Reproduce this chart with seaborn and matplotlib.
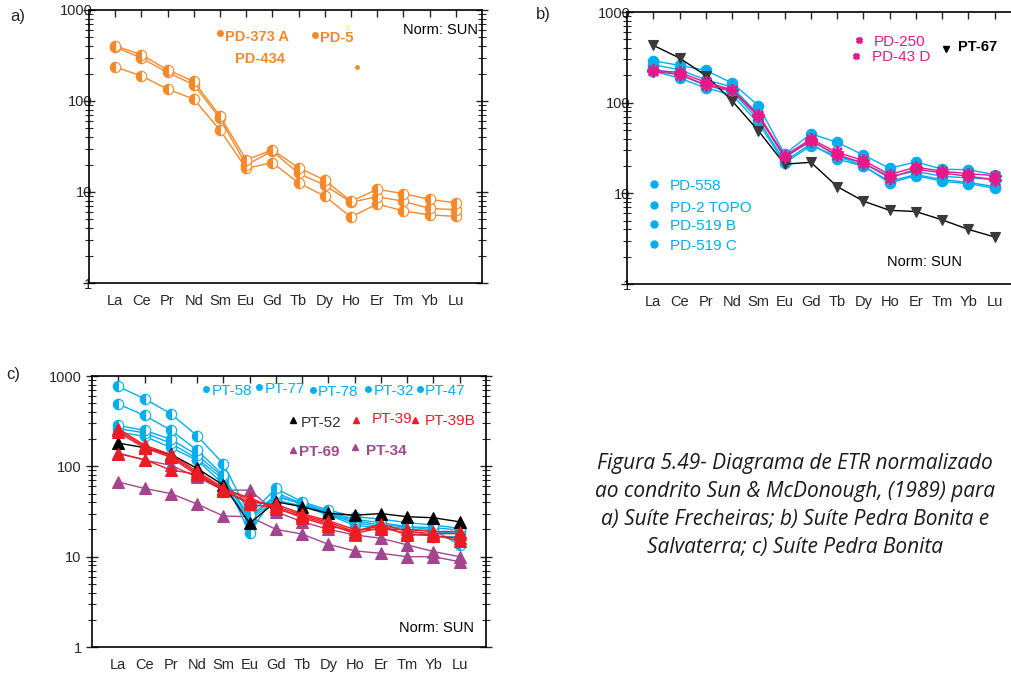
import numpy as np
import matplotlib
matplotlib.use('Agg')
import matplotlib.pyplot as plt
import seaborn as sns
from matplotlib.ticker import LogLocator, NullFormatter

ree = ['La', 'Ce', 'Pr', 'Nd', 'Sm', 'Eu', 'Gd', 'Tb', 'Dy', 'Ho', 'Er', 'Tm', 'Yb', 'Lu']

# a) Suite Frecheiras
pd_373a = [405, 322, 220, 164, 68.6, 22.5, 29.0, 18.5, 13.5, 7.9, 10.7, 9.6, 8.3, 7.6]
pd_434 = [392, 296, 206, 151, 64.6, 19.8, 28.2, 16.0, 11.9, 7.7, 8.9, 7.9, 6.6, 6.4]
pd_5 = [236, 189, 135, 105, 48.0, 18.2, 21.0, 12.6, 9.0, 5.3, 7.4, 6.2, 5.6, 5.4]

# b) Suite Pedra Bonita e Salvaterra
pd_558 = [290, 258, 227, 165, 93, 27.0, 45.5, 36.5, 26.5, 18.9, 22.2, 18.5, 18.2, 16.1]
pd_2_topo = [262, 231, 179, 149, 74, 24.5, 39.0, 25.6, 21.6, 15.4, 17.5, 15.4, 14.8, 14.2]
pd_519b = [235, 204, 154, 133, 65, 22.5, 35.3, 23.9, 19.9, 13.6, 16.1, 14.2, 13.2, 11.9]
pd_519c = [222, 187, 145, 122, 59.7, 21.6, 33.6, 25.6, 20.2, 13.0, 15.7, 13.6, 12.8, 11.4]
pd_250 = [227, 216, 168, 139, 74, 26.0, 39.7, 28.3, 23.1, 16.1, 19.5, 17.5, 16.5, 15.7]
pd_43d = [222, 204, 158, 137, 70.7, 25.2, 37.5, 26.7, 21.6, 14.8, 18.5, 16.8, 15.4, 14.2]
pt_67 = [429, 311, 199, 105, 49, 21.0, 22.0, 11.9, 8.2, 6.5, 6.3, 5.1, 4.0, 3.3]

# c) Suite Pedra Bonita
pt_58 = [766, 560, 383, 218, 107, 28.9, 57, 40.6, 32.8, 27.7, 26.1, 23.8, 22.4, 20.6]
pt_77 = [490, 366, 252, 151, 80, 18.1, 51, 38.9, 31.5, 25.9, 23.8, 21.5, 19.8, 13.5]
pt_78 = [284, 250, 200, 133, 76.6, 27.7, 48, 37.9, 30.2, 25.0, 22.4, 21.5, 20.9, 19.8]
pt_32 = [262, 235, 180, 122, 71.6, 26.6, 46, 38.9, 29.7, 23.8, 21.5, 20.6, 18.9, 18.1]
pt_47 = [240, 215, 162, 117, 63.6, 25.5, 42.4, 36.4, 28.9, 22.4, 20.6, 19.8, 16.7, 16.7]
pt_52 = [181, 161, 136, 95, 62, 23.4, 40.6, 35.7, 30.2, 28.8, 30.0, 27.7, 27.0, 24.3]
pt_39 = [261, 172, 135, 88, 58, 42, 36, 29, 24, 19, 23, 19, 18, 18]
pt_39b = [250, 166, 130, 84, 56, 45, 34, 28, 23, 18, 21, 18, 17, 16]
pt_39c = [238, 160, 126, 80, 54, 40, 38, 30, 25, 20, 20, 20, 19, 19]
pt_39d = [138, 119, 91, 82, 55, 38, 35, 27, 22, 19, 22, 17.4, 17.4, 15]
pt_69 = [141, 117, 103, 76, 54.6, 54.5, 31.4, 24.4, 20.1, 17.4, 16.0, 13.5, 11.4, 10.0]
pt_34 = [67, 57, 50, 38.3, 28.2, 27.7, 20.1, 17.8, 13.7, 11.6, 10.9, 10.0, 10.0, 8.8]

orange = '#F5892A'
cyan = '#00AEEF'
magenta = '#E8178A'
red = '#ED1C24'
purple = '#A3468F'

pos = np.arange(len(ree))

sns.set_style('ticks')
plt.rcParams['font.family'] = ['Liberation Sans', 'DejaVu Sans']

fig = plt.figure(figsize=(10.12, 6.79), dpi=100)
ax_a = fig.add_axes([0.0879, 0.5832, 0.3883, 0.4021])
ax_b = fig.add_axes([0.6196, 0.5817, 0.3893, 0.4006])
ax_c = fig.add_axes([0.0909, 0.0471, 0.3893, 0.3991])


def setup_axes(ax, ypad):
    ax.set_yscale('log')
    ax.set_ylim(1, 1000)
    ax.set_xlim(-1, len(ree))
    ax.set_xticks(pos)
    ax.set_xticklabels(ree)
    ax.set_yticks([1, 10, 100, 1000])
    ax.set_yticklabels(['1', '10', '100', '1000'])
    ax.yaxis.set_minor_locator(LogLocator(base=10, subs=np.arange(2, 10)))
    ax.yaxis.set_minor_formatter(NullFormatter())
    ax.tick_params(axis='x', bottom=False, top=True, direction='in',
                   length=5, width=1, labelsize=10.5, pad=8)
    ax.tick_params(axis='y', which='major', left=True, right=True,
                   direction='inout', length=9, width=1, labelsize=10.5, pad=ypad)
    ax.tick_params(axis='y', which='minor', left=True, right=True,
                   direction='inout', length=6, width=0.8)
    for s in ax.spines.values():
        s.set_linewidth(1.2)
        s.set_color('black')
    ax.set_xlabel('')
    ax.set_ylabel('')


def draw(ax, vals, color, marker, ms, fill='full', alt='white', edge=None, lw=1.0, mew=0.8, lcolor=None):
    sns.lineplot(x=pos, y=vals, ax=ax, color=lcolor or color, marker=marker,
                 markersize=ms, fillstyle=fill, markerfacecolor=color,
                 markerfacecoloralt=alt, markeredgecolor=edge or color,
                 markeredgewidth=mew, linewidth=lw, sort=False)


def key(ax, x, y, marker, color, ms=4):
    ax.plot([x], [y], marker=marker, color=color, markersize=ms,
            linestyle='none', transform=ax.transAxes, clip_on=False)


# ---- panel a
for vals in (pd_5, pd_434, pd_373a):
    draw(ax_a, vals, orange, 'o', 7.5, fill='left')
setup_axes(ax_a, -7)
key(ax_a, 0.333, 0.916, 'o', orange)
ax_a.text(0.346, 0.901, 'PD-373 A', transform=ax_a.transAxes, color=orange,
          fontsize=10.5, fontweight='bold', va='center')
ax_a.text(0.371, 0.821, 'PD-434', transform=ax_a.transAxes, color=orange,
          fontsize=10.5, fontweight='bold', va='center')
key(ax_a, 0.575, 0.908, 'o', orange)
ax_a.text(0.588, 0.897, 'PD-5', transform=ax_a.transAxes, color=orange,
          fontsize=10.5, fontweight='bold', va='center')
ax_a.text(0.656, 0.934, 'c', transform=ax_a.transAxes, color='#F2E600',
          fontsize=5, va='center')
key(ax_a, 0.682, 0.791, 'o', orange, ms=2.5)
ax_a.text(0.99, 0.927, 'Norm: SUN', transform=ax_a.transAxes, color='black',
          fontsize=10.5, ha='right', va='center')

# ---- panel b
for vals in (pd_519c, pd_519b, pd_2_topo, pd_558):
    draw(ax_b, vals, cyan, 'o', 7.5)
draw(ax_b, pt_67, '#3A3A3A', 'v', 7.5, lcolor='black', edge='#3A3A3A')
for vals in (pd_43d, pd_250):
    draw(ax_b, vals, magenta, (8, 2, 0), 9, mew=1.4)
setup_axes(ax_b, -7)
key(ax_b, 0.590, 0.897, 'X', magenta)
ax_b.text(0.626, 0.890, 'PD-250', transform=ax_b.transAxes, color=magenta,
          fontsize=11, va='center')
key(ax_b, 0.580, 0.838, 'X', magenta)
ax_b.text(0.621, 0.835, 'PD-43 D', transform=ax_b.transAxes, color=magenta,
          fontsize=11, va='center')
key(ax_b, 0.809, 0.864, 'v', 'black')
ax_b.text(0.840, 0.871, 'PT-67', transform=ax_b.transAxes, color='black',
          fontsize=10.5, fontweight='bold', va='center')
for y_m, y_t, lab in [(0.368, 0.360, 'PD-558'), (0.290, 0.279, 'PD-2 TOPO'),
                      (0.221, 0.213, 'PD-519 B'), (0.147, 0.140, 'PD-519 C')]:
    key(ax_b, 0.069, y_m, 'o', cyan, ms=5)
    ax_b.text(0.109, y_t, lab, transform=ax_b.transAxes, color=cyan,
              fontsize=11, va='center')
ax_b.text(0.659, 0.081, 'Norm: SUN', transform=ax_b.transAxes, color='black',
          fontsize=10.5, va='center')

# ---- panel c
for vals in (pt_34, pt_69):
    draw(ax_c, vals, purple, '^', 8)
for vals in (pt_47, pt_32, pt_78, pt_77, pt_58):
    draw(ax_c, vals, cyan, 'o', 7.5, fill='left')
draw(ax_c, pt_52, 'black', '^', 8)
for vals in (pt_39d, pt_39c, pt_39b, pt_39):
    draw(ax_c, vals, red, '^', 8)
setup_axes(ax_c, 3)
for xm, xt, y, lab in [(0.289, 0.305, 0.945, 'PT-58'), (0.424, 0.439, 0.952, 'PT-77'),
                       (0.561, 0.574, 0.940, 'PT-78'), (0.701, 0.716, 0.945, 'PT-32'),
                       (0.832, 0.845, 0.945, 'PT-47')]:
    key(ax_c, xm, y + 0.007, 'o', cyan)
    ax_c.text(xt, y, lab, transform=ax_c.transAxes, color=cyan,
              fontsize=11, va='center')
key(ax_c, 0.510, 0.838, '^', 'black')
ax_c.text(0.530, 0.827, 'PT-52', transform=ax_c.transAxes, color='#333333',
          fontsize=11, va='center')
key(ax_c, 0.670, 0.838, '^', red)
ax_c.text(0.710, 0.841, 'PT-39', transform=ax_c.transAxes, color=red,
          fontsize=11, va='center')
key(ax_c, 0.820, 0.838, '^', red)
ax_c.text(0.845, 0.834, 'PT-39B', transform=ax_c.transAxes, color=red,
          fontsize=11, va='center')
key(ax_c, 0.510, 0.727, '^', purple)
ax_c.text(0.525, 0.720, 'PT-69', transform=ax_c.transAxes, color=purple,
          fontsize=11, fontweight='bold', va='center')
key(ax_c, 0.668, 0.738, '^', purple)
ax_c.text(0.695, 0.723, 'PT-34', transform=ax_c.transAxes, color=purple,
          fontsize=11, fontweight='bold', va='center')
ax_c.text(0.970, 0.070, 'Norm: SUN', transform=ax_c.transAxes, color='black',
          fontsize=10.5, ha='right', va='center')

# panel letters
fig.text(18 / 1012, 1 - 16 / 679, 'a)', fontsize=12, ha='center', va='center')
fig.text(543 / 1012, 1 - 15 / 679, 'b)', fontsize=12, ha='center', va='center')
fig.text(13 / 1012, 1 - 374 / 679, 'c)', fontsize=12, ha='center', va='center')

# caption
caption = ['Figura 5.49- Diagrama de ETR normalizado',
           'ao condrito Sun & McDonough, (1989) para',
           'a) Suíte Frecheiras; b) Suíte Pedra Bonita e',
           'Salvaterra; c) Suíte Pedra Bonita']
for i, line in enumerate(caption):
    fig.text(795 / 1012, 1 - (463 + 28.2 * i) / 679, line, fontsize=15,
             style='italic', family=['Open Sans', 'DejaVu Sans'],
             color='#1a1a1a', ha='center', va='center')

fig.savefig('out.png', dpi=100)
